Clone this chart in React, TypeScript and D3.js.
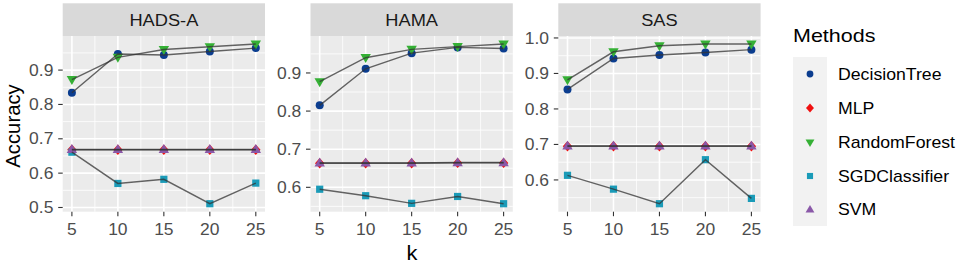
import React from "react";
import * as d3 from "d3";

const kValues = [5, 10, 15, 20, 25];
const panelNames = ["HADS-A", "HAMA", "SAS"];
const methods = ["DecisionTree", "MLP", "RandomForest", "SGDClassifier", "SVM"];
const methodColors = ["#0B3D8F", "#F01010", "#35B035", "#1A9BB8", "#8A58A8"];
const methodShapes = ["circle", "diamond", "triangleDown", "square", "triangleUp"];

// values per panel, per method (order as in methods)
const hadsDecisionTree = [0.834, 0.947, 0.944, 0.954, 0.964];
const hadsMLP = [0.668, 0.668, 0.668, 0.668, 0.668];
const hadsRandomForest = [0.872, 0.937, 0.96, 0.968, 0.976];
const hadsSGD = [0.661, 0.57, 0.582, 0.511, 0.571];
const hadsSVM = [0.669, 0.669, 0.669, 0.669, 0.669];

const hamaDecisionTree = [0.815, 0.911, 0.952, 0.967, 0.964];
const hamaMLP = [0.663, 0.663, 0.663, 0.664, 0.664];
const hamaRandomForest = [0.877, 0.94, 0.962, 0.969, 0.976];
const hamaSGD = [0.595, 0.578, 0.558, 0.576, 0.557];
const hamaSVM = [0.664, 0.664, 0.664, 0.665, 0.665];

const sasDecisionTree = [0.855, 0.942, 0.952, 0.959, 0.967];
const sasMLP = [0.695, 0.695, 0.695, 0.695, 0.695];
const sasRandomForest = [0.882, 0.961, 0.978, 0.983, 0.983];
const sasSGD = [0.613, 0.574, 0.533, 0.657, 0.548];
const sasSVM = [0.696, 0.696, 0.696, 0.696, 0.696];

const panelData = [
  [hadsDecisionTree, hadsMLP, hadsRandomForest, hadsSGD, hadsSVM],
  [hamaDecisionTree, hamaMLP, hamaRandomForest, hamaSGD, hamaSVM],
  [sasDecisionTree, sasMLP, sasRandomForest, sasSGD, sasSVM],
];

const W = 957;
const H = 264;
const SX = 1.12; // horizontal text stretch of the reference
const FONT = "'Liberation Sans', Arial, Helvetica, sans-serif";

const panelLeft0 = 62.7;
const panelW = 202.3;
const panelGap = 45.5;
const stripTop = 3.3;
const panelTop = 36;
const panelBottom = 211.7;

function T({ x, y, children, anchor = "start", size = 15, fill = "#4D4D4D", rotate = 0 }: any) {
  const tr = rotate
    ? `translate(${x},${y}) rotate(${rotate})`
    : `translate(${x},${y}) scale(${SX},1)`;
  return (
    <text transform={tr} textAnchor={anchor} fontSize={size} fill={fill} fontFamily={FONT}>
      {children}
    </text>
  );
}

function shapePath(shape: string, s: number): string {
  if (shape === "circle") return d3.symbol(d3.symbolCircle, Math.PI * 4.0 * 4.0 * s * s)()!;
  if (shape === "square") return d3.symbol(d3.symbolSquare, 7.2 * 7.2 * s * s)()!;
  if (shape === "diamond") {
    const r = 5.2 * s;
    return `M0,${-r}L${r * 0.9},0L0,${r}L${-r * 0.9},0Z`;
  }
  const w = 10.4 * s;
  const h = 9 * s;
  if (shape === "triangleUp") return `M0,${-h * 0.6}L${w / 2},${h * 0.4}L${-w / 2},${h * 0.4}Z`;
  return `M0,${h * 0.6}L${w / 2},${-h * 0.4}L${-w / 2},${-h * 0.4}Z`;
}

function Panel({ idx }: { idx: number }) {
  const left = panelLeft0 + idx * (panelW + panelGap);
  const series = panelData[idx];
  const all = series.flat();
  const [mn, mx] = d3.extent(all) as [number, number];
  const pad = (mx - mn) * 0.05;
  const y = d3.scaleLinear().domain([mn - pad, mx + pad]).range([panelBottom, panelTop]);
  const xpad = (25 - 5) * 0.05;
  const x = d3.scaleLinear().domain([5 - xpad, 25 + xpad]).range([left, left + panelW]);
  const yTicks = d3.range(0.5, 1.0001, 0.1).map((v) => +v.toFixed(2)).filter((v) => v >= y.domain()[0] && v <= y.domain()[1]);
  const yMinor = d3.range(0.45, 1.06, 0.1).map((v) => +v.toFixed(2)).filter((v) => v >= y.domain()[0] && v <= y.domain()[1]);
  const xMinor = [7.5, 12.5, 17.5, 22.5];
  const line = d3
    .line<number>()
    .x((_, i) => x(kValues[i]))
    .y((d) => y(d));

  return (
    <g>
      <rect x={left} y={stripTop} width={panelW} height={panelTop - stripTop} fill="#D9D9D9" />
      <T x={left + panelW / 2} y={26} anchor="middle" size={16.3} fill="#1A1A1A">
        {panelNames[idx]}
      </T>
      <rect x={left} y={panelTop} width={panelW} height={panelBottom - panelTop} fill="#EBEBEB" />
      {yMinor.map((v) => (
        <line key={"ym" + v} x1={left} x2={left + panelW} y1={y(v)} y2={y(v)} stroke="#fff" strokeWidth={0.8} />
      ))}
      {xMinor.map((v) => (
        <line key={"xm" + v} x1={x(v)} x2={x(v)} y1={panelTop} y2={panelBottom} stroke="#fff" strokeWidth={0.8} />
      ))}
      {yTicks.map((v) => (
        <line key={"y" + v} x1={left} x2={left + panelW} y1={y(v)} y2={y(v)} stroke="#fff" strokeWidth={1.6} />
      ))}
      {kValues.map((v) => (
        <line key={"x" + v} x1={x(v)} x2={x(v)} y1={panelTop} y2={panelBottom} stroke="#fff" strokeWidth={1.6} />
      ))}
      {yTicks.map((v) => (
        <g key={"yt" + v}>
          <line x1={left - 4.5} x2={left} y1={y(v)} y2={y(v)} stroke="#333" strokeWidth={1.1} />
          <T x={left - 9.3} y={y(v) + 5.6} anchor="end" size={15.6}>
            {v.toFixed(1)}
          </T>
        </g>
      ))}
      {kValues.map((v) => (
        <g key={"xt" + v}>
          <line x1={x(v)} x2={x(v)} y1={panelBottom} y2={panelBottom + 4.5} stroke="#333" strokeWidth={1.1} />
          <T x={x(v)} y={234.5} anchor="middle" size={15.6}>
            {String(v)}
          </T>
        </g>
      ))}
      {series.map((vals, m) =>
        vals.map((v, i) => (
          <path
            key={"p" + m + "-" + i}
            d={shapePath(methodShapes[m], 1)}
            transform={`translate(${x(kValues[i])},${y(v)})`}
            fill={methodColors[m]}
          />
        ))
      )}
      {series.map((vals, m) => (
        <path key={"l" + m} d={line(vals)!} fill="none" stroke="#333" strokeOpacity={0.75} strokeWidth={1.4} />
      ))}
    </g>
  );
}

export default function App() {
  const legendX = 793;
  const legendItemsY = [74, 108, 142.5, 176, 209.5];
  return (
    <svg width={W} height={H} style={{ position: "absolute", left: 0, top: 0 }} fontFamily={FONT}>
      <rect width={W} height={H} fill="#fff" />
      {panelNames.map((_, i) => (
        <Panel key={i} idx={i} />
      ))}
      <T x={412} y={260} anchor="middle" size={19.5} fill="#000">
        k
      </T>
      <T x={20} y={126} anchor="middle" size={20.3} fill="#000" rotate={-90}>
        Accuracy
      </T>
      <T x={legendX} y={42} size={19.2} fill="#000">
        Methods
      </T>
      <rect x={legendX} y={57} width={34} height={169} fill="#F2F2F2" />
      {methods.map((m, i) => (
        <g key={m}>
          <path
            d={shapePath(methodShapes[i], 0.85)}
            transform={`translate(${legendX + 17},${legendItemsY[i]})`}
            fill={methodColors[i]}
          />
          <T x={838} y={legendItemsY[i] + 5.7} size={15.8} fill="#000">
            {m}
          </T>
        </g>
      ))}
    </svg>
  );
}
